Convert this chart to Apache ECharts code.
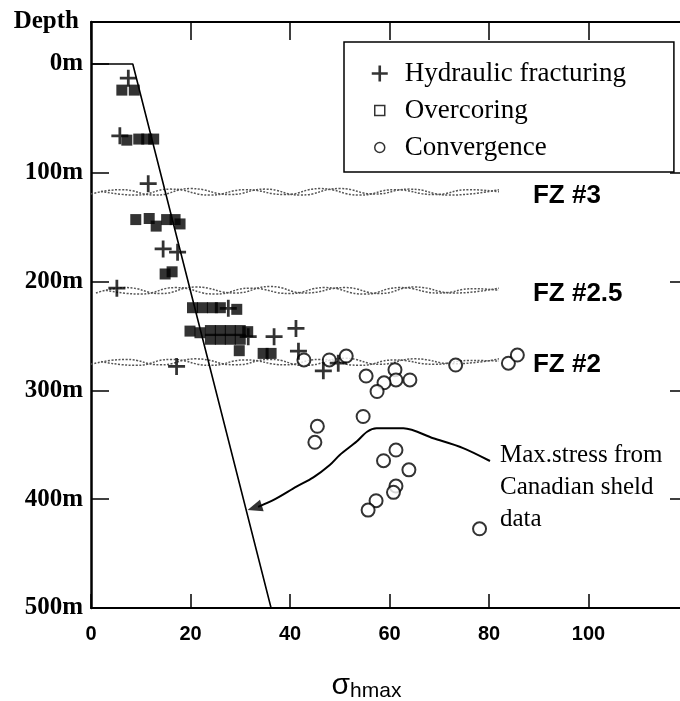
<!DOCTYPE html>
<html>
<head>
<meta charset="utf-8">
<script src="https://cdn.jsdelivr.net/npm/echarts@6/dist/echarts.min.js"></script>
<style>
  html, body { margin: 0; padding: 0; background: #fff; }
  #chart { width: 680px; height: 701px; }
</style>
</head>
<body>
<div id="chart"></div>
<script>
// sigma_hmax vs depth, [stress, depth m]
const hydraulic = [
  [7.5, 13], [5.8, 66], [11.5, 110], [14.5, 170], [17.4, 173], [5.2, 206],
  [27.6, 224.6], [31.6, 250.6], [36.8, 250.6], [41.2, 243], [41.7, 264],
  [17.2, 278], [46.7, 282], [49.7, 275]
]
const overcoring = [
  [6.2, 24], [8.7, 24], [7.2, 70], [9.6, 69], [11.2, 69], [12.6, 69],
  [9, 143], [11.7, 142], [13.1, 149], [15.2, 143], [16.9, 143], [17.9, 147],
  [14.9, 193], [16.3, 191],
  [20.4, 224], [22.4, 224], [24.4, 224], [26, 224], [29.3, 225.5],
  [19.9, 245.5], [21.9, 247], [24, 245], [26, 245], [28, 245], [30, 245], [31.5, 246],
  [24, 253], [26, 253], [28, 253], [30, 253],
  [29.8, 263.5], [34.6, 266], [36.2, 266]
]
const convergence = [
  [42.8, 272], [47.9, 272], [51.3, 268.4], [55.3, 286.8], [61.1, 281], [61.3, 290.4],
  [58.9, 293], [57.5, 301], [64.1, 290.4], [73.3, 276.7], [83.9, 275], [85.7, 267.5],
  [54.7, 324], [45.5, 333], [45, 347.7], [61.3, 354.8], [58.8, 364.6], [63.9, 373],
  [61.3, 387.9], [60.8, 393.7], [57.3, 401.4], [55.7, 410], [78.1, 427.2]
]
// trend line drawn through the data
const stressLine = [[0, 0], [8.4, 0], [36.2, 500]]
// max stress from Canadian shield data
const shieldCurve = [
  [33.6, 407], [37, 400], [41.3, 388.5], [44.7, 380], [48, 368.6], [50, 359.4],
  [53.4, 347], [55.5, 338], [57.4, 334.9], [62.8, 334.9], [68.8, 344], [74.8, 353], [80.2, 364.9]
]
const arrowHead = [[32.9, 407.9]]
// fault zones (two wavy strands each)
const fz3A = [[0, 119.5], [6, 115.5], [13, 120.5], [20, 114.5], [28, 120], [35, 115], [42, 120.5], [50, 114.5], [57, 119.5], [64, 115], [72, 120.5], [82, 115.5]]
const fz3B = [[2, 117], [9, 120.5], [16, 115], [24, 120.5], [31, 115.5], [39, 120], [46, 114.5], [54, 120.5], [61, 115.5], [69, 120], [76, 115.5], [82, 117.5]]
const fz25A = [[1, 210.5], [7, 205.5], [14, 211], [21, 205], [29, 210.5], [36, 204.5], [43, 210.5], [51, 205.5], [58, 211], [65, 205], [73, 210.5], [82, 206]]
const fz25B = [[3, 208], [10, 211.5], [17, 205.5], [25, 211.5], [32, 206], [40, 211], [47, 205.5], [55, 211.5], [62, 205.5], [70, 210.5], [77, 206.5], [82, 208]]
const fz2A = [[0, 276], [7, 271.5], [14, 276.5], [21, 271], [29, 276.5], [36, 271.5], [43, 277], [51, 270.5], [58, 276], [65, 271], [73, 275.5], [82, 271]]
const fz2B = [[2, 273.5], [9, 277], [16, 271.5], [24, 277], [31, 272], [39, 276.5], [46, 271.5], [54, 277], [61, 272], [69, 276], [76, 272.5], [82, 273]]

const depthTicks = [0, 100, 200, 300, 400, 500]
const rightTicks = [100, 200, 300, 400]

const plusPath = 'path://M-1.3,-8H1.3V-1.3H8V1.3H1.3V8H-1.3V1.3H-8V-1.3H-1.3Z'
const legendSquare = 'path://M-8,-8M8,8M-5,-5H5V5H-5Z'
const legendCircle = 'path://M-8,-8M8,8M-5,0A5,5,0,1,1,5,0A5,5,0,1,1,-5,0Z'
const serif = '"Liberation Serif", "Times New Roman", serif'
const sans = '"Liberation Sans", Arial, sans-serif'

let chart = echarts.init(document.getElementById('chart'))

function wave (data, label) {
  let s = {
    type: 'line',
    data: data,
    smooth: 0.5,
    symbol: 'none',
    silent: true,
    lineStyle: { color: '#555', width: 1.5, type: [2, 1.5] },
    z: 1
  }
  if (label) {
    s.endLabel = {
      show: true,
      formatter: label,
      distance: 34,
      offset: [0, 6],
      color: '#000',
      fontFamily: sans,
      fontWeight: 'bold',
      fontSize: 26
    }
  }
  return s
}

let option = {
  backgroundColor: '#fff',
  animation: false,
  grid: { left: 91, top: 22, width: 597, height: 586, outerBoundsMode: 'none' },
  legend: {
    orient: 'vertical',
    left: 344,
    top: 42,
    padding: [18, 48, 11, 27],
    itemGap: 10,
    itemWidth: 40,
    itemHeight: 16,
    borderColor: '#000',
    borderWidth: 1.5,
    backgroundColor: '#fff',
    textStyle: { fontFamily: serif, fontSize: 27, color: '#000' },
    data: [
      { name: 'Hydraulic fracturing', icon: plusPath, itemStyle: { color: '#000' } },
      { name: 'Overcoring', icon: legendSquare, itemStyle: { color: '#fff', borderColor: '#000', borderWidth: 1.5 } },
      { name: 'Convergence', icon: legendCircle, itemStyle: { color: '#fff', borderColor: '#000', borderWidth: 1.5 } }
    ]
  },
  xAxis: [
    {
      type: 'value',
      min: 0,
      max: 120,
      interval: 20,
      name: '{s|σ}{h|hmax}',
      nameLocation: 'middle',
      nameGap: 61,
      nameTextStyle: {
        padding: [0, 46, 0, 0],
        rich: {
          s: { fontFamily: sans, fontSize: 30, color: '#000' },
          h: { fontFamily: sans, fontSize: 21, color: '#000', padding: [12, 0, 0, 0] }
        }
      },
      axisLine: { onZero: false, lineStyle: { color: '#000', width: 2 } },
      axisTick: { inside: true, length: 14, lineStyle: { color: '#000', width: 1.5 } },
      axisLabel: {
        showMaxLabel: false,
        margin: 16,
        color: '#000',
        fontFamily: sans,
        fontWeight: 'bold',
        fontSize: 20
      },
      splitLine: { show: false }
    },
    {
      type: 'value',
      position: 'top',
      min: 0,
      max: 120,
      interval: 20,
      axisLine: { onZero: false, lineStyle: { color: '#000', width: 2 } },
      axisTick: { inside: true, length: 18, lineStyle: { color: '#000', width: 1.5 } },
      axisLabel: { show: false },
      splitLine: { show: false }
    }
  ],
  yAxis: [
    {
      type: 'value',
      inverse: true,
      min: -38.6,
      max: 500,
      name: 'Depth',
      nameLocation: 'start',
      nameGap: 0,
      nameTextStyle: {
        align: 'right',
        verticalAlign: 'middle',
        padding: [0, 12, 0, 0],
        color: '#000',
        fontFamily: serif,
        fontWeight: 'bold',
        fontSize: 25
      },
      axisLine: { onZero: false, lineStyle: { color: '#000', width: 2.5 } },
      axisTick: { inside: true, length: 18, customValues: depthTicks, lineStyle: { color: '#000', width: 1.5 } },
      axisLabel: {
        customValues: depthTicks,
        formatter: v => v + 'm',
        margin: 8,
        color: '#000',
        fontFamily: serif,
        fontWeight: 'bold',
        fontSize: 25
      },
      splitLine: { show: false }
    },
    {
      type: 'value',
      position: 'right',
      inverse: true,
      min: -38.6,
      max: 500,
      axisLine: { show: false, onZero: false },
      axisTick: { inside: true, length: 18, customValues: rightTicks, lineStyle: { color: '#000', width: 1.5 } },
      axisLabel: { show: false },
      splitLine: { show: false }
    }
  ],
  series: [
    wave(fz3A, 'FZ #3'),
    wave(fz3B),
    wave(fz25A, 'FZ #2.5'),
    wave(fz25B),
    wave(fz2A, 'FZ #2'),
    wave(fz2B),
    {
      type: 'line',
      data: stressLine,
      symbol: 'none',
      silent: true,
      lineStyle: { color: '#000', width: 1.6 },
      z: 2
    },
    {
      type: 'line',
      data: shieldCurve,
      smooth: 0.3,
      symbol: 'none',
      silent: true,
      lineStyle: { color: '#000', width: 2 },
      markPoint: {
        symbolSize: 0,
        silent: true,
        data: [{ coord: [80.2, 364.9] }],
        label: {
          show: true,
          position: [10, -22],
          align: 'left',
          verticalAlign: 'top',
          formatter: 'Max.stress from\nCanadian sheld\ndata',
          lineHeight: 32,
          color: '#000',
          fontFamily: serif,
          fontSize: 25
        }
      },
      z: 2
    },
    {
      type: 'scatter',
      data: arrowHead,
      symbol: 'triangle',
      symbolSize: [12, 15],
      symbolRotate: 108,
      silent: true,
      itemStyle: { color: '#000' },
      z: 3
    },
    {
      name: 'Hydraulic fracturing',
      type: 'scatter',
      data: hydraulic,
      symbol: plusPath,
      symbolSize: 17,
      itemStyle: { color: '#000' },
      z: 5
    },
    {
      name: 'Overcoring',
      type: 'scatter',
      data: overcoring,
      symbol: 'rect',
      symbolSize: 11,
      itemStyle: { color: '#000' },
      z: 4
    },
    {
      name: 'Convergence',
      type: 'scatter',
      data: convergence,
      symbol: 'circle',
      symbolSize: 13,
      itemStyle: { color: '#fff', borderColor: '#000', borderWidth: 2 },
      z: 4
    }
  ]
}

chart.setOption(option)
</script>
</body>
</html>
